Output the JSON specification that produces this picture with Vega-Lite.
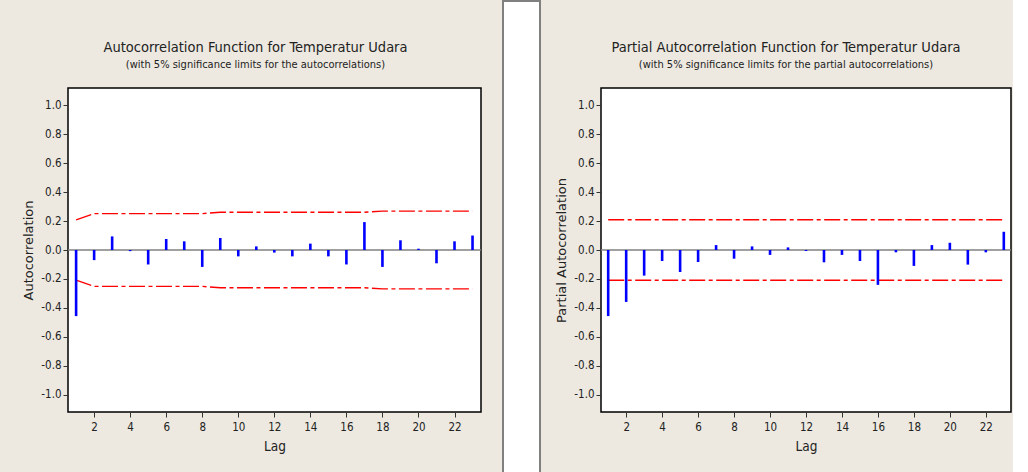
{
  "$schema": "https://vega.github.io/schema/vega-lite/v6.json",
  "background": "#EDE9E0",
  "padding": {"left": 22, "top": 0, "right": 0, "bottom": 0},
  "bounds": "flush",
  "center": true,
  "spacing": 22,
  "config": {
    "view": {"stroke": "#000000", "strokeWidth": 1.5, "fill": "#FFFFFF"},
    "axis": {
      "labelFont": "Liberation Sans Narrow, Arial Narrow, DejaVu Sans Condensed, sans-serif",
      "labelFontSize": 11.5,
      "labelColor": "#222222",
      "labelOverlap": false,
      "tickColor": "#333333",
      "tickSize": 5,
      "domain": false,
      "grid": false,
      "titleFontWeight": "normal",
      "titleColor": "#222222"
    },
    "axisX": {
      "labelPadding": 4,
      "tickCount": 20,
      "titleFont": "Liberation Sans Narrow, Arial Narrow, DejaVu Sans Condensed, sans-serif",
      "titleFontSize": 13.5,
      "titlePadding": 7
    },
    "axisY": {
      "labelPadding": 2,
      "tickCount": 20,
      "titleFont": "DejaVu Sans, sans-serif",
      "titleFontSize": 13,
      "titlePadding": 5
    },
    "title": {
      "font": "Liberation Sans Narrow, Arial Narrow, DejaVu Sans Condensed, sans-serif",
      "fontSize": 14.5,
      "fontWeight": "normal",
      "color": "#222222",
      "subtitleFont": "Liberation Sans Narrow, Arial Narrow, DejaVu Sans Condensed, sans-serif",
      "subtitleFontSize": 11,
      "subtitleColor": "#222222",
      "subtitlePadding": 4,
      "anchor": "middle",
      "offset": 17
    }
  },
  "datasets": {
    "corr": [
      {"lag": 1, "acf": -0.457, "acf_hi": 0.208, "acf_lo": -0.208, "pacf": -0.457, "pacf_hi": 0.209, "pacf_lo": -0.209},
      {"lag": 2, "acf": -0.07, "acf_hi": 0.252, "acf_lo": -0.252, "pacf": -0.359, "pacf_hi": 0.209, "pacf_lo": -0.209},
      {"lag": 3, "acf": 0.094, "acf_hi": 0.252, "acf_lo": -0.252, "pacf": -0.177, "pacf_hi": 0.209, "pacf_lo": -0.209},
      {"lag": 4, "acf": -0.008, "acf_hi": 0.252, "acf_lo": -0.252, "pacf": -0.076, "pacf_hi": 0.209, "pacf_lo": -0.209},
      {"lag": 5, "acf": -0.1, "acf_hi": 0.252, "acf_lo": -0.252, "pacf": -0.152, "pacf_hi": 0.209, "pacf_lo": -0.209},
      {"lag": 6, "acf": 0.076, "acf_hi": 0.252, "acf_lo": -0.252, "pacf": -0.083, "pacf_hi": 0.209, "pacf_lo": -0.209},
      {"lag": 7, "acf": 0.06, "acf_hi": 0.252, "acf_lo": -0.252, "pacf": 0.034, "pacf_hi": 0.209, "pacf_lo": -0.209},
      {"lag": 8, "acf": -0.117, "acf_hi": 0.252, "acf_lo": -0.252, "pacf": -0.06, "pacf_hi": 0.209, "pacf_lo": -0.209},
      {"lag": 9, "acf": 0.083, "acf_hi": 0.261, "acf_lo": -0.261, "pacf": 0.025, "pacf_hi": 0.209, "pacf_lo": -0.209},
      {"lag": 10, "acf": -0.044, "acf_hi": 0.261, "acf_lo": -0.261, "pacf": -0.034, "pacf_hi": 0.209, "pacf_lo": -0.209},
      {"lag": 11, "acf": 0.025, "acf_hi": 0.261, "acf_lo": -0.261, "pacf": 0.018, "pacf_hi": 0.209, "pacf_lo": -0.209},
      {"lag": 12, "acf": -0.018, "acf_hi": 0.261, "acf_lo": -0.261, "pacf": -0.007, "pacf_hi": 0.209, "pacf_lo": -0.209},
      {"lag": 13, "acf": -0.044, "acf_hi": 0.261, "acf_lo": -0.261, "pacf": -0.085, "pacf_hi": 0.209, "pacf_lo": -0.209},
      {"lag": 14, "acf": 0.044, "acf_hi": 0.261, "acf_lo": -0.261, "pacf": -0.034, "pacf_hi": 0.209, "pacf_lo": -0.209},
      {"lag": 15, "acf": -0.044, "acf_hi": 0.261, "acf_lo": -0.261, "pacf": -0.076, "pacf_hi": 0.209, "pacf_lo": -0.209},
      {"lag": 16, "acf": -0.1, "acf_hi": 0.261, "acf_lo": -0.261, "pacf": -0.241, "pacf_hi": 0.209, "pacf_lo": -0.209},
      {"lag": 17, "acf": 0.193, "acf_hi": 0.261, "acf_lo": -0.261, "pacf": -0.016, "pacf_hi": 0.209, "pacf_lo": -0.209},
      {"lag": 18, "acf": -0.117, "acf_hi": 0.269, "acf_lo": -0.269, "pacf": -0.11, "pacf_hi": 0.209, "pacf_lo": -0.209},
      {"lag": 19, "acf": 0.067, "acf_hi": 0.269, "acf_lo": -0.269, "pacf": 0.034, "pacf_hi": 0.209, "pacf_lo": -0.209},
      {"lag": 20, "acf": 0.009, "acf_hi": 0.269, "acf_lo": -0.269, "pacf": 0.05, "pacf_hi": 0.209, "pacf_lo": -0.209},
      {"lag": 21, "acf": -0.092, "acf_hi": 0.269, "acf_lo": -0.269, "pacf": -0.101, "pacf_hi": 0.209, "pacf_lo": -0.209},
      {"lag": 22, "acf": 0.06, "acf_hi": 0.269, "acf_lo": -0.269, "pacf": -0.016, "pacf_hi": 0.209, "pacf_lo": -0.209},
      {"lag": 23, "acf": 0.1, "acf_hi": 0.269, "acf_lo": -0.269, "pacf": 0.126, "pacf_hi": 0.209, "pacf_lo": -0.209}
    ],
    "zero": [{"level": 0}]
  },
  "hconcat": [
    {
      "width": 413,
      "height": 324,
      "title": {
        "text": "Autocorrelation Function for Temperatur Udara",
        "subtitle": "(with 5% significance limits for the autocorrelations)",
        "dx": -19
      },
      "layer": [
        {
          "data": {"name": "zero"},
          "mark": {"type": "rule", "color": "#808080", "strokeWidth": 1.5},
          "encoding": {
            "y": {"field": "level", "type": "quantitative", "title": "Autocorrelation",
                  "scale": {"domain": [-1.12, 1.12], "nice": false, "zero": false},
                  "axis": {"values": [-1, -0.8, -0.6, -0.4, -0.2, 0, 0.2, 0.4, 0.6, 0.8, 1], "tickCount": 20, "labelOverlap": false, "labelBound": false, "labelExpr": "replace(format(datum.value, '.1f'), '\u2212', '-')"}}
          }
        },
        {
          "data": {"name": "corr"},
          "mark": {"type": "line", "color": "#FF0000", "strokeWidth": 1.3, "strokeDash": [16, 3.5, 4, 3.5]},
          "encoding": {
            "x": {"field": "lag", "type": "quantitative", "title": "Lag",
                  "scale": {"domain": [0.55, 23.47], "nice": false, "zero": false},
                  "axis": {"values": [2, 4, 6, 8, 10, 12, 14, 16, 18, 20, 22], "tickCount": 20, "labelOverlap": false}},
            "y": {"field": "acf_hi", "type": "quantitative", "title": "Autocorrelation"}
          }
        },
        {
          "data": {"name": "corr"},
          "mark": {"type": "line", "color": "#FF0000", "strokeWidth": 1.3, "strokeDash": [16, 3.5, 4, 3.5]},
          "encoding": {
            "x": {"field": "lag", "type": "quantitative", "title": "Lag"},
            "y": {"field": "acf_lo", "type": "quantitative", "title": "Autocorrelation"}
          }
        },
        {
          "data": {"name": "corr"},
          "mark": {"type": "rule", "color": "#0000FF", "strokeWidth": 2.6},
          "encoding": {
            "x": {"field": "lag", "type": "quantitative", "title": "Lag"},
            "y": {"field": "acf", "type": "quantitative", "title": "Autocorrelation"},
            "y2": {"datum": 0}
          }
        }
      ]
    },
    {
      "width": 37,
      "height": 498,
      "data": {"values": []},
      "mark": "text",
      "view": {"fill": "#FFFFFF", "stroke": "#808080", "strokeWidth": 2}
    },
    {
      "width": 17,
      "height": 10,
      "data": {"values": []},
      "mark": "text",
      "view": {"fill": null, "stroke": null}
    },
    {
      "width": 410,
      "height": 324,
      "title": {
        "text": "Partial Autocorrelation Function for Temperatur Udara",
        "subtitle": "(with 5% significance limits for the partial autocorrelations)",
        "dx": -20
      },
      "layer": [
        {
          "data": {"name": "zero"},
          "mark": {"type": "rule", "color": "#808080", "strokeWidth": 1.5},
          "encoding": {
            "y": {"field": "level", "type": "quantitative", "title": "Partial Autocorrelation",
                  "scale": {"domain": [-1.12, 1.12], "nice": false, "zero": false},
                  "axis": {"values": [-1, -0.8, -0.6, -0.4, -0.2, 0, 0.2, 0.4, 0.6, 0.8, 1], "tickCount": 20, "labelOverlap": false, "labelBound": false, "labelExpr": "replace(format(datum.value, '.1f'), '\u2212', '-')"}}
          }
        },
        {
          "data": {"name": "corr"},
          "mark": {"type": "line", "color": "#FF0000", "strokeWidth": 1.3, "strokeDash": [16, 3.5, 4, 3.5]},
          "encoding": {
            "x": {"field": "lag", "type": "quantitative", "title": "Lag",
                  "scale": {"domain": [0.6, 23.4], "nice": false, "zero": false},
                  "axis": {"values": [2, 4, 6, 8, 10, 12, 14, 16, 18, 20, 22], "tickCount": 20, "labelOverlap": false}},
            "y": {"field": "pacf_hi", "type": "quantitative", "title": "Partial Autocorrelation"}
          }
        },
        {
          "data": {"name": "corr"},
          "mark": {"type": "line", "color": "#FF0000", "strokeWidth": 1.3, "strokeDash": [16, 3.5, 4, 3.5]},
          "encoding": {
            "x": {"field": "lag", "type": "quantitative", "title": "Lag"},
            "y": {"field": "pacf_lo", "type": "quantitative", "title": "Partial Autocorrelation"}
          }
        },
        {
          "data": {"name": "corr"},
          "mark": {"type": "rule", "color": "#0000FF", "strokeWidth": 2.6},
          "encoding": {
            "x": {"field": "lag", "type": "quantitative", "title": "Lag"},
            "y": {"field": "pacf", "type": "quantitative", "title": "Partial Autocorrelation"},
            "y2": {"datum": 0}
          }
        }
      ]
    }
  ]
}
